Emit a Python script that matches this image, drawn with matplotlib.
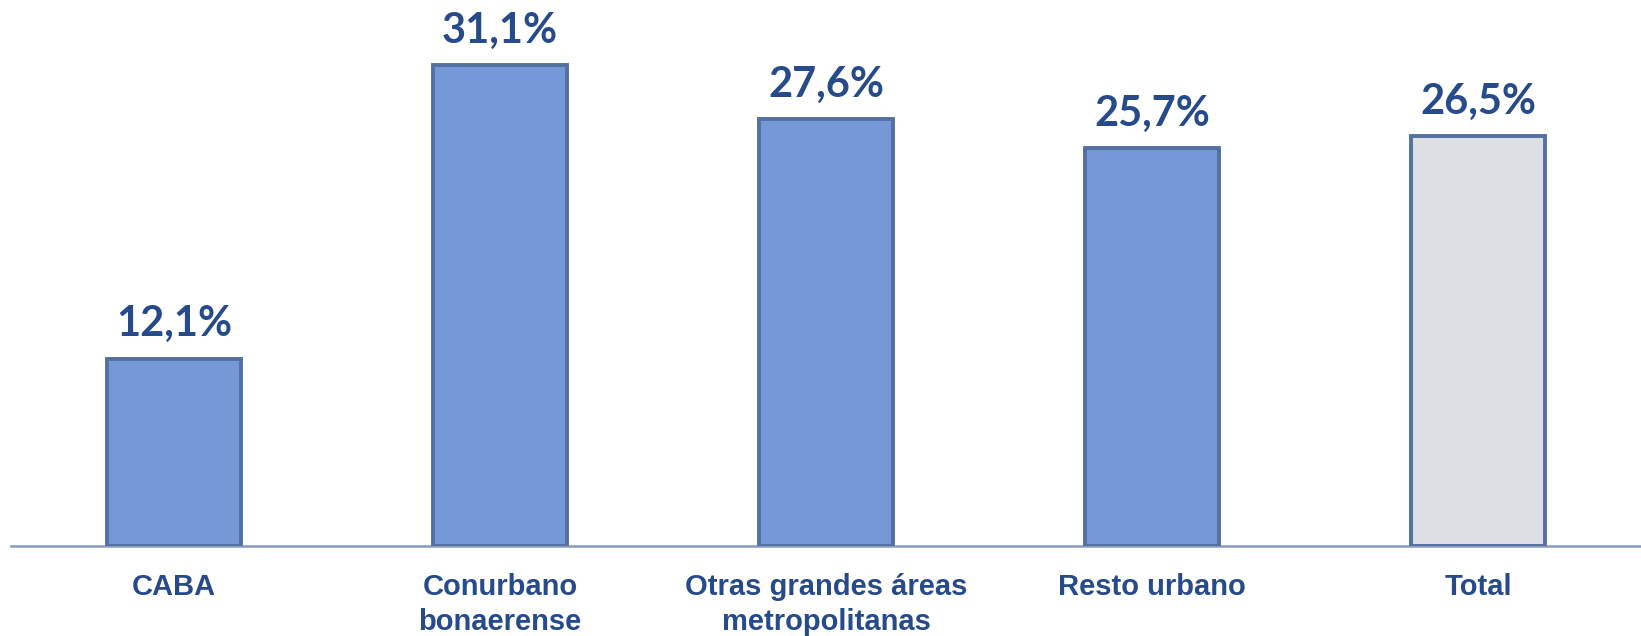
import numpy as np
import matplotlib.pyplot as plt

# Data
categories = ["CABA", "Conurbano\nbonaerense", "Otras grandes áreas\nmetropolitanas",
              "Resto urbano", "Total"]
values = [12.1, 31.1, 27.6, 25.7, 26.5]
value_labels = ["12,1%", "31,1%", "27,6%", "25,7%", "26,5%"]

# Styling
bar_color = "#7598D6"
total_color = "#DCDFE4"
edge_color = "#5470A3"
text_color = "#264A8A"
axis_color = "#8A9BBD"

fig = plt.figure(figsize=(16.41, 6.36), dpi=100)
ax = fig.add_axes([11 / 1641, 0.142, 1630 / 1641, 0.851])

x = np.arange(len(categories))
colors = [bar_color] * (len(categories) - 1) + [total_color]
bars = ax.bar(x, values, width=0.41, color=colors, edgecolor=edge_color,
              linewidth=2.8, zorder=2)

# value labels above the bars
for bar, lab in zip(bars, value_labels):
    ax.annotate(lab, (bar.get_x() + bar.get_width() / 2, bar.get_height()),
                xytext=(0, 11), textcoords="offset points",
                ha="center", va="bottom", fontsize=30, fontweight="bold",
                color=text_color, family=["Lato", "DejaVu Sans"])

ax.set_xlim(-0.5, 4.5)
ax.set_ylim(0, 35)
ax.set_xticks(x)
ax.set_xticklabels(categories, fontsize=21, fontweight="bold", color=text_color,
                   family=["Liberation Sans", "DejaVu Sans"], linespacing=1.3)
ax.tick_params(axis="x", length=0, pad=20)
ax.set_yticks([])

for side in ["top", "right", "left"]:
    ax.spines[side].set_visible(False)
ax.spines["bottom"].set_color(axis_color)
ax.spines["bottom"].set_linewidth(1.8)
ax.spines["bottom"].set_zorder(1)

fig.savefig("out.png", dpi=100)
